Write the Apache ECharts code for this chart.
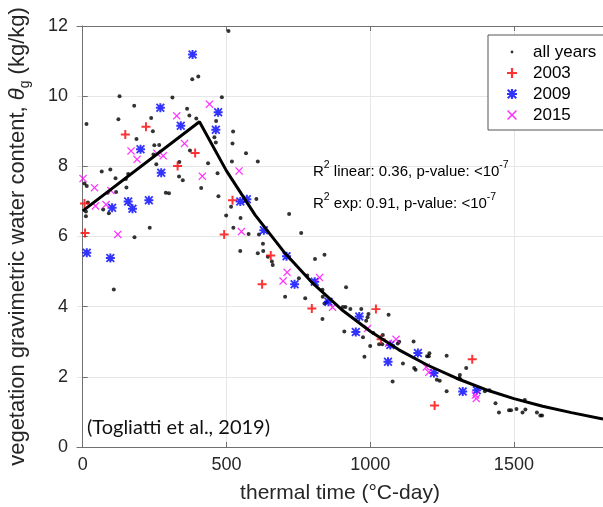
<!DOCTYPE html>
<html><head><meta charset="utf-8">
<script src="https://cdn.jsdelivr.net/npm/echarts@6/dist/echarts.min.js"></script>
<style>html,body{margin:0;padding:0;background:#fff}#c{width:603px;height:507px}</style>
</head><body><div id="c"></div>
<script>
// ---- data ----
const xTicks = [0, 500, 1000, 1500];
const allYears = [[507,11.86],[381,10.48],[402,10.56],[128,10.0],[312,9.96],[484,9.97],[179,9.73],[363,9.64],[13,9.21],[124,9.34],[238,9.38],[371,9.45],[395,9.36],[464,9.29],[244,9.0],[523,8.99],[187,8.78],[249,8.6],[266,8.61],[458,8.83],[463,8.68],[373,8.45],[521,8.65],[568,8.37],[246,8.34],[256,8.06],[436,8.09],[519,8.14],[609,8.14],[336,8.12],[66,7.85],[96,7.91],[158,7.78],[335,7.71],[348,7.6],[469,7.8],[6,7.51],[14,7.44],[114,7.66],[150,7.64],[152,7.4],[87,7.25],[116,7.27],[289,7.25],[300,7.23],[412,7.38],[472,7.15],[516,6.85],[604,7.07],[18,6.97],[11,6.71],[11,6.58],[71,6.77],[91,6.66],[499,6.6],[549,6.53],[233,6.25],[524,6.25],[180,5.98],[577,6.07],[613,6.06],[108,4.49],[548,5.59],[609,5.52],[627,5.79],[628,5.59],[658,5.29],[661,5.19],[644,5.42],[718,6.64],[760,6.1],[704,4.28],[752,4.81],[774,4.24],[781,4.89],[808,5.36],[841,5.48],[834,4.48],[835,4.28],[841,4.09],[849,4.13],[834,3.65],[916,4.55],[905,3.99],[914,3.99],[931,3.93],[969,3.93],[910,3.29],[975,3.13],[980,2.57],[986,3.6],[991,3.7],[994,3.79],[1011,3.25],[1000,2.88],[1031,2.93],[1044,3.19],[1042,2.93],[1064,3.77],[1096,2.95],[1101,3.0],[1114,2.38],[1078,1.87],[1151,3.01],[1153,2.25],[1158,2.2],[1198,2.59],[1206,2.67],[1204,2.59],[1266,2.6],[1334,2.25],[1312,2.05],[1314,1.93],[1310,1.97],[1232,1.92],[1242,1.89],[1266,1.59],[1415,1.62],[1399,1.59],[1436,1.25],[1448,0.98],[1483,1.05],[1490,1.05],[1509,1.08],[1530,0.98],[1538,1.34],[1540,1.07],[1580,0.98],[1592,0.9],[1598,0.9]];
const y2003 = [[8,6.1],[6,6.94],[148,8.91],[220,9.13],[330,8.01],[391,8.38],[521,7.03],[492,6.06],[624,4.64],[654,5.46],[797,3.95],[1020,3.93],[1038,3.07],[1355,2.5],[1224,1.18]];
const y2009 = [[382,11.19],[270,9.67],[471,9.54],[341,9.16],[463,9.04],[201,8.49],[273,7.82],[158,7.0],[230,7.03],[102,6.82],[173,6.79],[548,7.0],[571,7.06],[14,5.54],[96,5.39],[630,6.18],[709,5.44],[737,4.64],[807,4.71],[855,4.14],[962,3.72],[950,3.28],[1070,2.91],[1062,2.43],[1166,2.68],[1222,2.11],[1322,1.58],[1371,1.62]];
const y2015 = [[1,7.65],[41,7.39],[44,6.87],[81,6.91],[98,7.31],[122,6.06],[168,8.44],[189,8.2],[258,8.37],[280,8.3],[327,9.44],[354,8.65],[441,9.77],[416,7.72],[544,7.87],[552,6.14],[697,4.73],[711,4.98],[824,4.83],[869,3.98],[991,3.38],[1090,3.07],[1064,2.96],[1195,2.28],[1204,2.13],[1366,1.48],[1369,1.38]];
const fitX = [0, 406, 500, 600, 700, 800, 900, 1000, 1100, 1200, 1300, 1400, 1500, 1600, 1700, 1810];
const fitY = [6.73, 9.27, 7.87, 6.61, 5.56, 4.67, 3.92, 3.30, 2.77, 2.33, 1.96, 1.64, 1.38, 1.16, 0.98, 0.80];
const seriesNames = ['all years', '2003', '2009', '2015'];

// ---- marker shapes ----
const plusPath = 'path://M3.9,0h2.2v3.9h3.9v2.2h-3.9v3.9h-2.2v-3.9h-3.9v-2.2h3.9z';
const xPath = 'path://M1.1,0L5,3.9L8.9,0L10,1.1L6.1,5L10,8.9L8.9,10L5,6.1L1.1,10L0,8.9L3.9,5L0,1.1z';
const starPath = 'path://M3.9,0h2.2v3.9h3.9v2.2h-3.9v3.9h-2.2v-3.9h-3.9v-2.2h3.9zM1.4,0L5,3.6L8.6,0L10,1.4L6.4,5L10,8.6L8.6,10L5,6.4L1.4,10L0,8.6L3.6,5L0,1.4z';
const dotPath = 'path://M0,0L0,0M10,10L10,10M5,3.6A1.4,1.4 0 1 1 5,6.4A1.4,1.4 0 1 1 5,3.6z';

const FONT = "'Liberation Sans', Arial, sans-serif";
const axisCol = '#707070';
const txtCol = '#262626';
const supRich = {
  n: {fontFamily: FONT, fontSize: 15, fill: '#000', lineHeight: 18, verticalAlign: 'bottom'},
  s: {fontFamily: FONT, fontSize: 10.5, fill: '#000', lineHeight: 10, padding: [0, 0, 8, 0], verticalAlign: 'bottom'}
};
const chart = echarts.init(document.getElementById('c'), null, {renderer: 'canvas'});
chart.setOption({
  animation: false,
  backgroundColor: '#fff',
  grid: {left: 77, right: 0, top: 26, bottom: 60, containLabel: false, outerBoundsMode: 'none'},
  xAxis: [{
    type: 'value', min: -20, max: 1810, position: 'bottom',
    name: 'thermal time (°C-day)', nameLocation: 'middle', nameGap: 36,
    nameTextStyle: {fontFamily: FONT, fontSize: 21, color: txtCol},
    axisLine: {show: true, lineStyle: {color: axisCol, width: 1}},
    axisTick: {show: true, inside: true, length: 5, customValues: xTicks, lineStyle: {color: axisCol}},
    axisLabel: {customValues: xTicks, fontFamily: FONT, fontSize: 18, color: txtCol, margin: 9,
                formatter: v => String(v)},
    splitLine: {show: true, lineStyle: {color: '#e6e6e6', width: 1}}
  }, {
    type: 'value', min: -20, max: 1810, position: 'top',
    axisLine: {show: true, lineStyle: {color: axisCol, width: 1}},
    axisTick: {show: true, inside: true, length: 5, customValues: xTicks, lineStyle: {color: axisCol}},
    axisLabel: {show: false}, splitLine: {show: false}
  }],
  yAxis: {
    type: 'value', min: 0, max: 12, interval: 2,
    name: '{n|vegetation gravimetric water content, }{t|θ}{s|g}{n| (kg/kg)}',
    nameLocation: 'middle', nameGap: 45,
    nameTextStyle: {fontFamily: FONT, fontSize: 22, color: txtCol,
      rich: {
        n: {fontFamily: FONT, fontSize: 22, color: txtCol, lineHeight: 28, verticalAlign: 'middle'},
        t: {fontFamily: FONT, fontSize: 22, fontStyle: 'italic', color: txtCol, lineHeight: 28, verticalAlign: 'middle'},
        s: {fontFamily: FONT, fontSize: 14, color: txtCol, lineHeight: 24, verticalAlign: 'bottom'}
      }},
    axisLine: {show: true, lineStyle: {color: axisCol, width: 1}},
    axisTick: {show: true, inside: true, length: 5, lineStyle: {color: axisCol}},
    axisLabel: {fontFamily: FONT, fontSize: 18, color: txtCol, margin: 9},
    splitLine: {show: true, lineStyle: {color: '#e6e6e6', width: 1}}
  },
  legend: {
    orient: 'vertical', left: 488, top: 35,
    padding: [8, 40, 6, 19], itemGap: 3, itemWidth: 10, itemHeight: 10,
    backgroundColor: '#fff', borderColor: '#555', borderWidth: 1, borderRadius: 0,
    textStyle: {fontFamily: FONT, fontSize: 17, color: '#000', lineHeight: 18, padding: [0, 0, 0, 11]},
    data: [
      {name: seriesNames[0], icon: dotPath},
      {name: seriesNames[1], icon: plusPath},
      {name: seriesNames[2], icon: starPath},
      {name: seriesNames[3], icon: xPath}
    ]
  },
  graphic: [
    {type: 'text', left: 313, top: 160, z: 100, style: {
      text: '{n|R}{s|2}{n| linear: 0.36, p-value: <10}{s|-7}', rich: supRich}},
    {type: 'text', left: 313, top: 192, z: 100, style: {
      text: '{n|R}{s|2}{n| exp: 0.91, p-value: <10}{s|-7}', rich: supRich}},
    {type: 'text', left: 87, top: 418, z: 100, style: {
      text: '(Togliatti et al., 2019)', fontFamily: 'Lato', fontSize: 20, fill: '#111'}}
  ],
  series: [
    {name: seriesNames[0], type: 'scatter', data: allYears, symbol: 'circle', symbolSize: 4,
     itemStyle: {color: '#000'}, z: 2},
    {name: seriesNames[1], type: 'scatter', data: y2003, symbol: plusPath, symbolSize: 9,
     itemStyle: {color: '#ff0000'}, z: 3},
    {name: seriesNames[2], type: 'scatter', data: y2009, symbol: starPath, symbolSize: 9,
     itemStyle: {color: '#0000ff'}, z: 4},
    {name: seriesNames[3], type: 'scatter', data: y2015, symbol: xPath, symbolSize: 8,
     itemStyle: {color: '#ff00ff'}, z: 5},
    {name: 'fit', type: 'line', data: fitX.map((x, i) => [x, fitY[i]]), showSymbol: false, symbol: 'none',
     lineStyle: {color: '#000', width: 3}, silent: true, z: 6}
  ]
});
</script></body></html>
